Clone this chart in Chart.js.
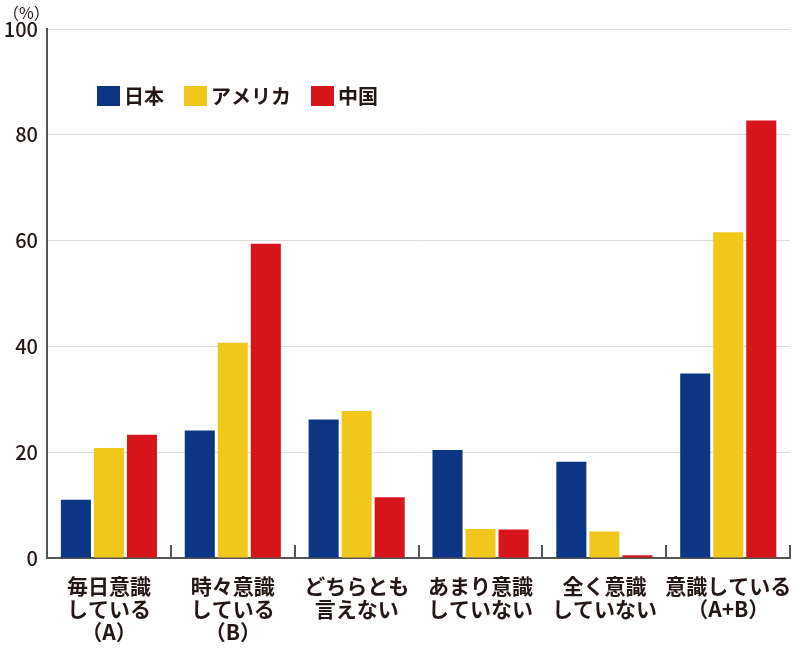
<!DOCTYPE html>
<html>
<head>
<meta charset="utf-8">
<script src="https://cdn.jsdelivr.net/npm/chart.js@4/dist/chart.umd.min.js"></script>
<style>
  html, body { margin: 0; padding: 0; background: #fff; }
  #wrap { width: 800px; height: 649px; }
</style>
</head>
<body>
<div id="wrap"><canvas id="awarenessChart" width="800" height="649"></canvas></div>
<script>
const categories = [
    ['毎日意識', 'している', '（A）'],
    ['時々意識', 'している', '（B）'],
    ['どちらとも', '言えない'],
    ['あまり意識', 'していない'],
    ['全く意識', 'していない'],
    ['意識している', '（A+B）']
];
const japan   = [11.0, 24.1, 26.2, 20.4, 18.2, 34.9];
const america = [20.8, 40.7, 27.8, 5.5, 5.0, 61.6];
const china   = [23.3, 59.4, 11.5, 5.4, 0.5, 82.7];
const seriesNames = ['日本', 'アメリカ', '中国'];
const seriesColors = ['#0d3585', '#f2c71b', '#d7161c'];

const textColor = '#231815';
const jpFont = '"Noto Sans CJK JP", "Noto Sans", sans-serif';

// tick marks pointing up from the x axis at each category boundary
const boundaryTicks = {
    id: 'boundaryTicks',
    afterDatasetsDraw(chart) {
        const x = chart.scales.x;
        const ctx = chart.ctx;
        const half = (x.getPixelForValue(1) - x.getPixelForValue(0)) / 2;
        ctx.save();
        ctx.strokeStyle = '#555';
        ctx.lineWidth = 2;
        for (let i = 0; i < categories.length; i++) {
            const px = Math.round(x.getPixelForValue(i) + half);
            ctx.beginPath();
            ctx.moveTo(px, x.top);
            ctx.lineTo(px, x.top - 13);
            ctx.stroke();
        }
        ctx.restore();
    }
};

// legend inside the plot, plus the (%) unit label
const innerLegend = {
    id: 'innerLegend',
    afterDraw(chart) {
        const ctx = chart.ctx;
        const area = chart.chartArea;
        ctx.save();
        ctx.font = '16px ' + jpFont;
        ctx.fillStyle = textColor;
        ctx.textAlign = 'left';
        ctx.textBaseline = 'middle';
        ctx.fillText('（%）', 3, 13);

        ctx.font = 'bold 20px ' + jpFont;
        let x = area.left + 50;
        const y = 96;
        chart.data.datasets.forEach(ds => {
            ctx.fillStyle = ds.backgroundColor;
            ctx.fillRect(x, y - 10, 23, 20);
            ctx.fillStyle = textColor;
            ctx.fillText(ds.label, x + 27, y);
            x += 27 + ctx.measureText(ds.label).width + 20;
        });
        ctx.restore();
    }
};

const ctx = document.getElementById('awarenessChart').getContext('2d');
new Chart(ctx, {
    type: 'bar',
    data: {
        labels: categories,
        datasets: [japan, america, china].map((d, i) => ({
            label: seriesNames[i],
            data: d,
            backgroundColor: seriesColors[i],
            borderWidth: 0,
            categoryPercentage: 0.8,
            barPercentage: 0.91
        }))
    },
    options: {
        responsive: false,
        animation: false,
        devicePixelRatio: 1,
        layout: { padding: { top: 29, right: 9, left: 0, bottom: 0 } },
        plugins: {
            legend: { display: false },
            tooltip: { enabled: false }
        },
        scales: {
            x: {
                grid: { display: false },
                border: { color: '#555', width: 2 },
                ticks: {
                    color: textColor,
                    padding: 8,
                    maxRotation: 0,
                    autoSkip: false,
                    font: { family: jpFont, size: 21, weight: 'bold', lineHeight: 1.1 }
                },
                afterFit(scale) { scale.height = 91; }
            },
            y: {
                min: 0,
                max: 100,
                ticks: {
                    stepSize: 20,
                    color: textColor,
                    padding: 9,
                    font: { family: jpFont, size: 20, weight: '500' }
                },
                grid: { color: '#dcdcdc', lineWidth: 1, drawTicks: false },
                border: { color: '#555', width: 2 },
                afterFit(scale) { scale.width = 47; }
            }
        }
    },
    plugins: [boundaryTicks, innerLegend]
});
</script>
</body>
</html>
